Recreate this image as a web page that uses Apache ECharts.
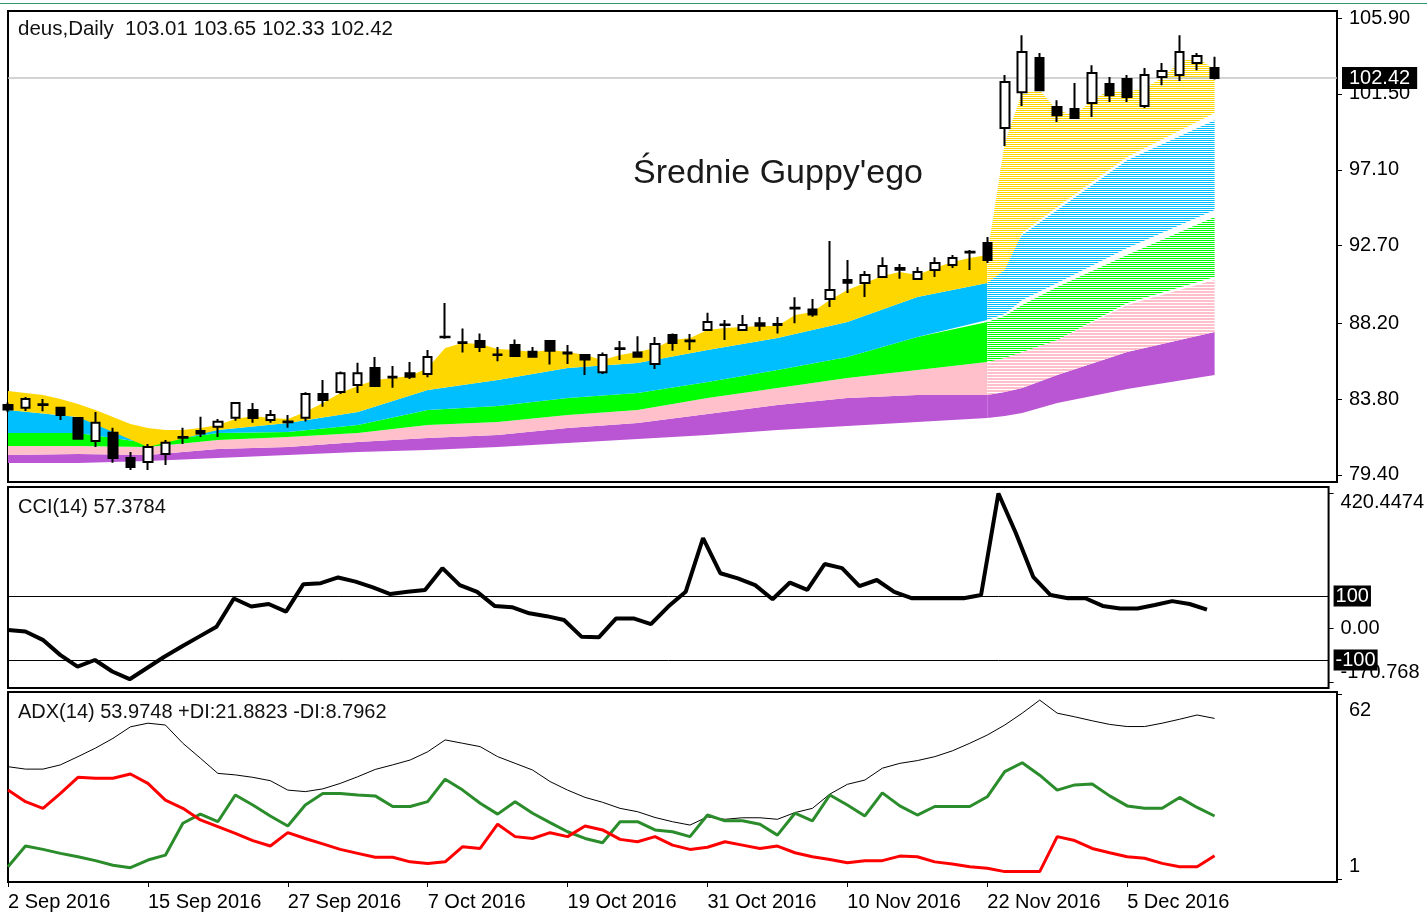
<!DOCTYPE html>
<html>
<head>
<meta charset="utf-8">
<title>Średnie Guppy'ego</title>
<script src="https://cdn.jsdelivr.net/npm/echarts@6/dist/echarts.min.js"></script>
<style>
  html, body { margin: 0; padding: 0; background: #fff; }
  #chart { width: 1427px; height: 915px; }
</style>
</head>
<body>
<div id="chart"></div>
<script>
// sesje
const dates = [
  '2 Sep 2016', '6 Sep 2016', '7 Sep 2016', '8 Sep 2016', '9 Sep 2016', '12 Sep 2016', '13 Sep 2016', '14 Sep 2016',
  '15 Sep 2016', '16 Sep 2016', '19 Sep 2016', '20 Sep 2016', '21 Sep 2016', '22 Sep 2016', '23 Sep 2016', '26 Sep 2016',
  '27 Sep 2016', '28 Sep 2016', '29 Sep 2016', '30 Sep 2016', '3 Oct 2016', '4 Oct 2016', '5 Oct 2016', '6 Oct 2016',
  '7 Oct 2016', '10 Oct 2016', '11 Oct 2016', '12 Oct 2016', '13 Oct 2016', '14 Oct 2016', '17 Oct 2016', '18 Oct 2016',
  '19 Oct 2016', '20 Oct 2016', '21 Oct 2016', '24 Oct 2016', '25 Oct 2016', '26 Oct 2016', '27 Oct 2016', '28 Oct 2016',
  '31 Oct 2016', '1 Nov 2016', '2 Nov 2016', '3 Nov 2016', '4 Nov 2016', '7 Nov 2016', '8 Nov 2016', '9 Nov 2016',
  '10 Nov 2016', '11 Nov 2016', '14 Nov 2016', '15 Nov 2016', '16 Nov 2016', '17 Nov 2016', '18 Nov 2016', '21 Nov 2016',
  '22 Nov 2016', '23 Nov 2016', '25 Nov 2016', '28 Nov 2016', '29 Nov 2016', '30 Nov 2016', '1 Dec 2016', '2 Dec 2016',
  '5 Dec 2016', '6 Dec 2016', '7 Dec 2016', '8 Dec 2016', '9 Dec 2016', '12 Dec 2016'
];
const tickDates = ['2 Sep 2016', '15 Sep 2016', '27 Sep 2016', '7 Oct 2016', '19 Oct 2016', '31 Oct 2016', '10 Nov 2016', '22 Nov 2016', '5 Dec 2016'];
const emptySlots = 7; // wolne miejsce po prawej stronie wykresu

// OHLC
const opens = [83.45, 83.29, 83.50, 83.29, 82.70, 81.37, 81.84, 80.38, 80.15, 80.62, 81.55, 81.95, 82.19, 82.71, 83.17, 82.59, 82.45, 82.71, 84.10, 84.21,
  84.62, 85.60, 85.10, 85.30, 85.25, 87.42, 87.10, 87.17, 86.38, 86.94, 86.55, 87.17, 86.50, 86.35, 85.35, 86.70, 86.50, 85.83, 87.52, 87.15,
  87.80, 88.10, 87.80, 88.20, 88.10, 89.05, 89.00, 89.60, 90.70, 90.53, 90.88, 91.40, 90.76, 91.29, 91.57, 92.30, 92.85, 99.52, 101.60, 103.58,
  100.74, 100.62, 100.97, 102.07, 102.36, 100.80, 102.48, 102.60, 103.29, 103.01];
const highs = [83.60, 83.92, 83.80, 83.35, 82.75, 83.05, 82.13, 80.73, 81.20, 81.43, 82.13, 82.77, 82.65, 83.63, 83.57, 83.17, 82.88, 84.20, 84.91, 85.40,
  85.90, 86.24, 85.72, 85.95, 86.65, 89.37, 87.90, 87.60, 86.82, 87.25, 86.82, 87.20, 86.94, 86.40, 86.50, 87.17, 87.45, 87.40, 87.60, 87.57,
  88.80, 88.38, 88.68, 88.56, 88.56, 89.70, 89.60, 92.97, 91.87, 91.23, 92.03, 91.63, 91.46, 92.03, 92.15, 92.45, 93.20, 102.60, 104.90, 103.87,
  101.14, 102.13, 103.17, 102.48, 102.60, 103.00, 103.29, 104.90, 103.87, 103.65];
const lows = [83.05, 83.11, 83.10, 82.59, 81.45, 81.02, 80.10, 79.69, 79.69, 79.98, 81.20, 81.60, 81.60, 82.54, 82.42, 82.42, 82.13, 82.50, 83.36, 84.10,
  84.15, 84.50, 84.45, 84.97, 85.07, 87.30, 86.50, 86.53, 86.00, 86.30, 86.20, 85.80, 85.83, 85.20, 85.25, 86.07, 86.20, 85.55, 86.60, 86.65,
  87.75, 87.23, 87.75, 87.75, 87.60, 88.20, 88.58, 89.14, 89.95, 89.72, 90.88, 90.78, 90.70, 90.88, 91.40, 91.29, 91.70, 98.48, 100.80, 101.72,
  99.87, 100.10, 100.16, 101.03, 101.03, 100.68, 102.00, 102.25, 102.88, 102.33];
const closes = [83.20, 83.81, 83.45, 82.88, 81.50, 82.42, 80.38, 79.86, 81.02, 81.26, 81.60, 81.80, 82.48, 83.57, 82.70, 82.88, 82.50, 84.10, 83.75, 85.30,
  85.30, 84.56, 85.05, 85.10, 86.24, 87.38, 87.05, 86.82, 86.35, 86.30, 86.25, 86.60, 86.45, 86.10, 86.35, 86.75, 86.25, 87.00, 87.05, 87.20,
  88.27, 88.12, 88.10, 88.05, 88.15, 89.10, 88.70, 90.13, 90.55, 91.00, 91.52, 91.30, 91.17, 91.69, 91.98, 92.35, 91.87, 102.19, 103.93, 101.72,
  100.27, 100.10, 102.71, 101.43, 101.32, 102.60, 102.83, 103.93, 103.70, 102.42];
const priceTicks = [105.90, 101.50, 97.10, 92.70, 88.20, 83.80, 79.40];

// średnie Guppy'ego - granice pasów
const yellowTop = [84.27, 84.15, 84.03, 83.80, 83.51, 83.16, 82.76, 82.35, 82.12, 82.00, 82.00, 82.12, 82.29, 82.64, 82.82, 82.70, 82.64, 83.05, 83.57, 84.15,
  84.56, 84.90, 85.02, 85.14, 85.60, 86.76, 87.05, 86.99, 86.70, 86.64, 86.53, 86.64, 86.53, 86.35, 86.06, 86.35, 86.53, 86.76, 87.22, 87.34,
  87.80, 87.92, 87.98, 88.04, 88.04, 88.67, 88.85, 89.54, 90.12, 90.53, 90.94, 91.17, 90.99, 91.40, 91.75, 91.98, 92.15, 98.65, 101.61, 101.72,
  100.56, 100.27, 101.14, 101.72, 101.61, 101.84, 102.42, 103.35, 103.64, 102.88];
const bandIdx = [0, 4, 8, 12, 16, 20, 24, 28, 32, 36, 40, 44, 48, 52, 56, 57, 58, 60, 64, 69];
const yellowBottom = [83.16, 82.76, 81.02, 82.00, 82.41, 83.05, 84.32, 84.90, 85.60, 85.89, 86.64, 87.34, 88.27, 89.72, 90.53, 91.28, 93.43, 94.94, 97.84, 100.39];
const blueTop = [83.16, 82.76, 81.42, 82.00, 82.41, 83.05, 84.32, 84.90, 85.60, 85.89, 86.64, 87.34, 88.27, 89.72, 90.53, 91.75, 93.31, 94.76, 97.66, 99.98];
const blueBottom = [81.83, 81.83, 81.25, 81.83, 81.89, 82.29, 83.16, 83.40, 83.86, 84.15, 84.79, 85.48, 86.24, 87.40, 88.38, 88.73, 89.54, 90.53, 92.56, 94.76];
const greenTop = [81.83, 81.83, 81.25, 81.83, 81.89, 82.29, 83.16, 83.40, 83.86, 84.15, 84.79, 85.48, 86.24, 87.40, 88.27, 88.62, 89.25, 90.30, 92.15, 94.36];
const greenBottom = [81.08, 81.08, 81.02, 81.42, 81.60, 81.83, 82.29, 82.47, 82.87, 83.16, 83.86, 84.44, 85.02, 85.48, 85.95, 86.18, 86.53, 87.22, 89.37, 90.88];
const pinkTop = [81.08, 81.08, 81.02, 81.42, 81.60, 81.83, 82.29, 82.47, 82.87, 83.16, 83.86, 84.44, 85.02, 85.48, 85.95, 86.18, 86.53, 87.22, 89.25, 90.70];
const pinkBottom = [80.55, 80.61, 80.55, 80.90, 81.02, 81.31, 81.54, 81.71, 82.12, 82.41, 82.93, 83.45, 83.86, 84.03, 84.03, 84.21, 84.44, 85.19, 86.53, 87.69];
const purpleTop = pinkBottom;
const purpleBottom = [80.09, 80.09, 80.21, 80.38, 80.55, 80.73, 80.84, 81.02, 81.25, 81.48, 81.71, 82.00, 82.24, 82.47, 82.70, 82.82, 82.99, 83.57, 84.38, 85.19];
const fanStart = 56; // od tej sesji średnie rozchodzą się w wachlarz

// CCI(14)
const cci = [-6, -11, -37, -84, -121, -100, -136, -160, -125, -90, -58, -27, 4, 92, 67, 75, 51, 137, 140, 158,
  145, 127, 106, 113, 119, 187, 134, 113, 69, 65, 46, 37, 25, -27, -29, 30, 30, 12, 67, 113,
  281, 171, 155, 134, 90, 142, 119, 200, 187, 131, 150, 113, 93, 93, 93, 93, 103, 420.4474, 297, 160,
  103, 93, 93, 69, 61, 61, 72, 84, 75, 57.3784];
const cciLevels = [100, -100];
const cciTicks = [420.4474, 0, -170.768];
const cciTickText = ['420.4474', '0.00', '-170.768'];

// ADX(14)
const adx = [38.1, 37.3, 37.3, 38.7, 41.4, 44.2, 47.4, 51.2, 52.4, 51.8, 45.8, 40.9, 35.9, 35.4, 34.6, 33.5, 30.4, 29.9, 30.8, 32.6,
  34.8, 37.2, 38.7, 40.3, 43.0, 46.9, 45.8, 44.7, 41.4, 39.2, 37.0, 33.2, 30.4, 28.0, 26.4, 24.4, 23.3, 21.4, 20.0, 18.9,
  21.6, 20.8, 21.3, 21.3, 20.8, 23.0, 24.4, 29.1, 32.3, 33.7, 37.6, 39.2, 40.1, 41.4, 43.3, 45.8, 48.5, 51.8, 55.7, 60.0,
  55.7, 54.5, 53.2, 52.0, 51.3, 51.3, 52.4, 53.7, 55.1, 53.9748];
const plusDi = [5.2, 12.0, 10.9, 9.6, 8.5, 7.2, 5.7, 4.9, 7.4, 9.0, 19.5, 22.5, 20.0, 28.8, 25.5, 21.9, 18.6, 25.5, 29.3, 29.3,
  28.8, 28.5, 25.0, 25.0, 26.6, 34.0, 30.4, 26.1, 22.5, 26.6, 22.8, 19.7, 16.7, 14.5, 13.1, 20.0, 20.0, 17.3, 16.7, 15.1,
  22.2, 20.3, 20.3, 19.2, 15.6, 22.8, 20.3, 28.8, 25.5, 21.9, 29.5, 25.2, 22.2, 25.0, 25.0, 25.0, 28.2, 36.5, 39.4, 35.3,
  30.4, 32.1, 32.4, 28.5, 25.2, 24.4, 24.4, 28.0, 24.7, 21.8823];
const minusDi = [30.4, 26.6, 24.4, 29.3, 34.6, 34.3, 34.3, 35.7, 32.6, 27.1, 24.4, 20.6, 18.4, 16.2, 13.8, 12.0, 16.4, 14.5, 12.7, 10.9,
  9.6, 8.3, 8.3, 6.8, 6.3, 6.8, 11.8, 11.2, 19.2, 15.1, 14.5, 16.4, 15.1, 18.6, 17.3, 14.2, 13.4, 15.1, 12.3, 10.9,
  11.6, 13.4, 12.3, 11.2, 12.0, 9.8, 8.5, 7.6, 6.5, 7.2, 7.2, 8.7, 8.5, 6.8, 6.1, 5.2, 4.7, 3.6, 3.6, 3.6,
  15.1, 13.8, 11.2, 9.8, 8.5, 8.0, 6.3, 5.2, 5.2, 8.7962];
const adxTicks = [62, 1];

const FONT = "'Liberation Sans', Arial, sans-serif";
const categories = dates.concat(new Array(emptySlots).fill(''));
const last = closes.length - 1;

const pairs = (idx, vals) => idx.map((i, k) => [i, vals[k]]);

// paski imitujące gęste linie średnich
const stripes = (color, on, off) => {
  const c = document.createElement('canvas');
  c.width = 8;
  c.height = on + off;
  const ctx = c.getContext('2d');
  ctx.fillStyle = '#fff';
  ctx.fillRect(0, 0, 8, on + off);
  ctx.fillStyle = color;
  ctx.fillRect(0, 0, 8, on);
  return { image: c, repeat: 'repeat' };
};

// pas wypełniony między górną i dolną krzywą
const band = (top, bottom, color) => ({
  type: 'custom',
  xAxisIndex: 0,
  yAxisIndex: 0,
  silent: true,
  z: 2,
  data: [[top[0][0], top[0][1]]],
  renderItem: (params, api) => {
    const pts = top.map(p => api.coord(p)).concat(bottom.slice().reverse().map(p => api.coord(p)));
    return { type: 'polygon', shape: { points: pts }, style: { fill: color } };
  }
});

// lewa część pasa pełna, prawa (wachlarz) w paski
const bandPair = (top, bottom, color, fanFill) => {
  const l = p => p[0] <= fanStart;
  const r = p => p[0] >= fanStart;
  return [
    band(top.filter(l), bottom.filter(l), color),
    band(top.filter(r), bottom.filter(r), fanFill)
  ];
};

const tickLabel = (ticks, texts) => (v) => {
  const k = ticks.findIndex(t => Math.abs(t - v) < 1e-6);
  const s = k >= 0 ? texts[k] : String(v);
  if (k === 0) return '{top|' + s + '}';
  if (k === ticks.length - 1) return '{bot|' + s + '}';
  return s;
};

const xAxisBase = (gridIndex) => ({
  type: 'category',
  gridIndex,
  data: categories,
  boundaryGap: false,
  axisLine: { show: false },
  axisTick: { show: false },
  axisLabel: { show: false },
  splitLine: { show: false }
});

const yAxisBase = (gridIndex, min, max) => ({
  type: 'value',
  gridIndex,
  position: 'right',
  min,
  max,
  axisLine: { show: false },
  splitLine: { show: false },
  axisTick: { show: true, length: 5, lineStyle: { color: '#000' } },
  axisLabel: { margin: 12, color: '#000', fontFamily: FONT, fontSize: 20 }
});

const myChart = echarts.init(document.getElementById('chart'));

const option = {
  animation: false,
  backgroundColor: '#fff',
  grid: [
    { left: 8, right: 90, top: 11, height: 471, show: true, borderColor: '#000', borderWidth: 2 },
    { left: 8, right: 90, top: 487, height: 201, show: true, borderColor: '#000', borderWidth: 2 },
    { left: 8, right: 90, top: 692, height: 190, show: true, borderColor: '#000', borderWidth: 2 }
  ],
  xAxis: [
    xAxisBase(0),
    xAxisBase(1),
    Object.assign(xAxisBase(2), {
      axisTick: {
        show: true, length: 5, lineStyle: { color: '#000' },
        interval: (i, v) => tickDates.includes(v)
      },
      axisLabel: {
        show: true, align: 'left', margin: 10, color: '#000', fontFamily: FONT, fontSize: 20,
        interval: (i, v) => tickDates.includes(v)
      }
    })
  ],
  yAxis: [
    (() => {
      const a = yAxisBase(0, 78.99, 106.31);
      a.axisTick.customValues = priceTicks;
      a.axisLabel.customValues = priceTicks;
      a.axisLabel.formatter = v => v.toFixed(2);
      return a;
    })(),
    (() => {
      const a = yAxisBase(1, -187.5, 440.6);
      a.axisTick.customValues = cciTicks;
      a.axisLabel.customValues = cciTicks;
      a.axisLabel.formatter = tickLabel(cciTicks, cciTickText);
      a.axisLabel.rich = {
        top: { padding: [19, 0, 0, 0], fontFamily: FONT, fontSize: 20, color: '#000' },
        bot: { padding: [0, 0, 21, 0], fontFamily: FONT, fontSize: 20, color: '#000' }
      };
      return a;
    })(),
    (() => {
      const a = yAxisBase(2, 0.18, 62.66);
      a.axisTick.customValues = adxTicks;
      a.axisLabel.customValues = adxTicks;
      a.axisLabel.formatter = tickLabel(adxTicks, adxTicks.map(String));
      a.axisLabel.rich = {
        top: { padding: [32, 0, 0, 0], fontFamily: FONT, fontSize: 20, color: '#000' },
        bot: { padding: [0, 0, 27, 0], fontFamily: FONT, fontSize: 20, color: '#000' }
      };
      return a;
    })()
  ],
  graphic: [
    { type: 'rect', left: 0, top: 3, shape: { width: 1427, height: 1 }, style: { fill: '#2f9466' }, silent: true },
    {
      type: 'text', left: 18, top: 19, silent: true,
      style: {
        text: 'deus,Daily  ' + [opens[last], highs[last], lows[last], closes[last]].map(v => v.toFixed(2)).join(' '),
        font: '20.5px ' + FONT, fill: '#111'
      }
    },
    {
      type: 'text', left: 633, top: 157, silent: true,
      style: { text: "Średnie Guppy'ego", font: '34px ' + FONT, fill: '#1a1a1a' }
    },
    {
      type: 'text', left: 18, top: 497, silent: true,
      style: { text: 'CCI(14) ' + cci[last].toFixed(4), font: '20px ' + FONT, fill: '#111' }
    },
    {
      type: 'text', left: 18, top: 702, silent: true,
      style: {
        text: 'ADX(14) ' + adx[last].toFixed(4) + ' +DI:' + plusDi[last].toFixed(4) + ' -DI:' + minusDi[last].toFixed(4),
        font: '20px ' + FONT, fill: '#111'
      }
    }
  ],
  series: [
    ...bandPair(pairs(bandIdx, purpleTop), pairs(bandIdx, purpleBottom), '#BA55D3', '#BA55D3'),
    ...bandPair(pairs(bandIdx, pinkTop), pairs(bandIdx, pinkBottom), '#FFC0CB', stripes('#FFC0CB', 2, 1)),
    ...bandPair(pairs(bandIdx, greenTop), pairs(bandIdx, greenBottom), '#00FF00', stripes('#00FF00', 1, 1)),
    ...bandPair(pairs(bandIdx, blueTop), pairs(bandIdx, blueBottom), '#00BFFF', stripes('#00BFFF', 1, 1)),
    ...bandPair(yellowTop.map((v, i) => [i, v]), pairs(bandIdx, yellowBottom), '#FFD700', stripes('#FFD700', 1, 1)),
    {
      type: 'candlestick',
      xAxisIndex: 0,
      yAxisIndex: 0,
      z: 5,
      barWidth: 9,
      data: opens.map((o, i) => [o, closes[i], lows[i], highs[i]]),
      itemStyle: { color: '#fff', color0: '#000', borderColor: '#000', borderColor0: '#000', borderWidth: 2 },
      markLine: {
        silent: true,
        symbol: ['none', 'none'],
        lineStyle: { color: '#c4c4c4', width: 1.5, type: 'solid' },
        label: {
          position: 'end', distance: 5, formatter: p => p.value.toFixed(2),
          backgroundColor: '#000', color: '#fff', padding: [1, 7, 1, 7], fontFamily: FONT, fontSize: 20
        },
        data: [{ yAxis: closes[last] }]
      }
    },
    {
      type: 'line',
      xAxisIndex: 1,
      yAxisIndex: 1,
      data: cci,
      showSymbol: false,
      lineStyle: { color: '#000', width: 4 },
      markLine: {
        silent: true,
        symbol: ['none', 'none'],
        lineStyle: { color: '#000', width: 1, type: 'solid' },
        label: {
          position: 'end', distance: 5, formatter: p => String(p.value),
          backgroundColor: '#000', color: '#fff', padding: [1, 2, 0, 2], fontFamily: FONT, fontSize: 20
        },
        data: cciLevels.map(v => ({ yAxis: v }))
      }
    },
    {
      type: 'line', xAxisIndex: 2, yAxisIndex: 2, data: adx, showSymbol: false,
      lineStyle: { color: '#000', width: 1 }
    },
    {
      type: 'line', xAxisIndex: 2, yAxisIndex: 2, data: plusDi, showSymbol: false,
      lineStyle: { color: '#2a8c2a', width: 3 }
    },
    {
      type: 'line', xAxisIndex: 2, yAxisIndex: 2, data: minusDi, showSymbol: false,
      lineStyle: { color: '#ff0000', width: 3 }
    }
  ]
};

myChart.setOption(option);
window.onresize = () => {
  myChart.resize();
};
</script>
</body>
</html>
